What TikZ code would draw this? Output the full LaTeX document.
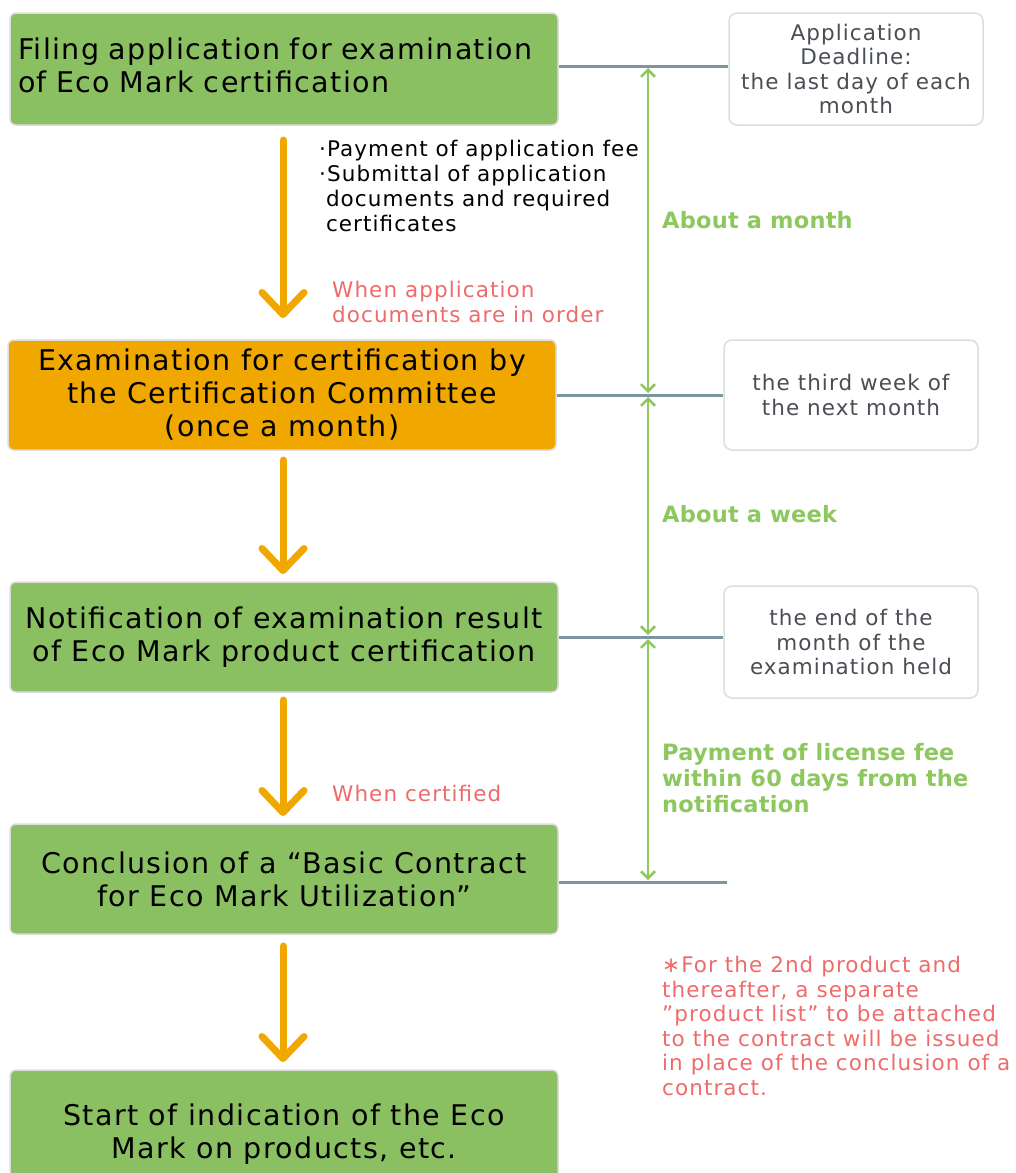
\documentclass[tikz,border=0pt]{standalone}
\usepackage{fontspec}
\setmainfont{DejaVu Sans}[LetterSpace=5]
\newfontfamily\boldfam{DejaVu Sans}[LetterSpace=1]
\usetikzlibrary{arrows.meta}
\definecolor{boxgreen}{HTML}{8BC062}
\definecolor{boxorange}{HTML}{F0A800}
\definecolor{arrgreen}{HTML}{8DC85F}
\definecolor{txtred}{HTML}{EE6B6B}
\definecolor{linegrey}{HTML}{7B95A3}
\definecolor{bordergrey}{HTML}{DDDDDD}
\definecolor{infotxt}{HTML}{4A4F55}
\newcommand{\bul}{·}
\tikzset{
  stepbox/.style={draw=bordergrey, line width=1.5pt, rounded corners=6pt, fill=boxgreen,
    minimum width=548pt, minimum height=110pt, inner sep=8pt,
    font=\fontsize{28.5}{33}\selectfont, text=black, align=center},
  infobox/.style={draw=bordergrey, line width=1.5pt, rounded corners=8pt, fill=white,
    minimum width=254pt, minimum height=112pt, font=\fontsize{21.5}{24.5}\selectfont,
    text=infotxt, align=center},
  flowarrow/.style={draw=boxorange, line width=7pt, line cap=round,
    -{Straight Barb[length=22pt,width=42pt,line cap=round,line join=round]}},
  spanarrow/.style={draw=arrgreen, line width=2.5pt,
    {Straight Barb[length=7pt,width=14pt]}-{Straight Barb[length=7pt,width=14pt]}},
  tieline/.style={draw=linegrey, line width=3pt},
  greentxt/.style={text=arrgreen, font=\boldfam\fontsize{22.5}{26}\selectfont\bfseries, align=left, anchor=north west, inner sep=0pt},
  redtxt/.style={text=txtred, font=\fontsize{21.5}{24.5}\selectfont, align=left, anchor=north west, inner sep=0pt},
  blacktxt/.style={text=black, font=\fontsize{21.5}{25}\selectfont, align=left, anchor=north west, inner sep=0pt},
}
\begin{document}
\begin{tikzpicture}[x=1pt,y=-1pt]
\useasboundingbox (0,0) rectangle (1016,1173);
\clip (0,0) rectangle (1016,1173);
% main boxes
\node[stepbox, minimum height=112pt, text width=532pt, align=left] (b1) at (284,69) {\raisebox{3pt}{\begin{tabular}{@{}l@{}}Filing application for examination\\of Eco Mark certification\end{tabular}}};
\node[stepbox, fill=boxorange] (b2) at (282,395) {Examination for certification by\\the Certification Committee\\(once a month)};
\node[stepbox] (b3) at (284,637) {Notification of examination result\\of Eco Mark product certification};
\node[stepbox] (b4) at (284,879) {Conclusion of a “Basic Contract\\for Eco Mark Utilization”};
\node[stepbox, minimum height=130pt] (b5) at (284,1135) {\raisebox{23pt}{\begin{tabular}{@{}c@{}}Start of indication of the Eco\\Mark on products, etc.\end{tabular}}};
% info boxes
\node[infobox] (i1) at (856,69) {Application\\Deadline:\\the last day of each\\month};
\node[infobox, minimum height=110pt] (i2) at (851,395) {the third week of\\the next month};
\node[infobox] (i3) at (851,642) {the end of the\\month of the\\examination held};
% tie lines
\coordinate (t1) at (648,66);
\coordinate (t2) at (648,395);
\coordinate (t3) at (648,637);
\coordinate (t4) at (648,882);
\coordinate (e4) at (727,882);
\draw[tieline] (b1.east |- t1) -- (i1.west |- t1);
\draw[tieline] (b2.east |- t2) -- (i2.west |- t2);
\draw[tieline] (b3.east |- t3) -- (i3.west |- t3);
\draw[tieline] (b4.east |- t4) -- (e4);
% span arrows
\draw[spanarrow, shorten <=2pt, shorten >=2pt] (t1) -- (t2);
\draw[spanarrow, shorten <=2pt, shorten >=2pt] (t2) -- (t3);
\draw[spanarrow, shorten <=2pt, shorten >=2pt] (t3) -- (t4);
% flow arrows
\coordinate (a1s) at (283,140); \coordinate (a1e) at (283,322);
\coordinate (a2s) at (283,460); \coordinate (a2e) at (283,578);
\coordinate (a3s) at (283,700); \coordinate (a3e) at (283,820);
\coordinate (a4s) at (283,946); \coordinate (a4e) at (283,1066);
\draw[flowarrow, shorten >=4pt] (a1s) -- (a1e);
\draw[flowarrow, shorten >=4pt] (a2s) -- (a2e);
\draw[flowarrow, shorten >=4pt] (a3s) -- (a3e);
\draw[flowarrow, shorten >=4pt] (a4s) -- (a4e);
% labels
\node[blacktxt] (n1) at (319,140) {\bul Payment of application fee\\\bul Submittal of application\\\phantom{\bul}documents and required\\\phantom{\bul}certificates};
\node[redtxt] (r1) at (332,281) {When application\\documents are in order};
\node[redtxt] (r2) at (332,785) {When certified};
\node[greentxt] (g1) at (662,211) {About a month};
\node[greentxt] (g2) at (662,505) {About a week};
\node[greentxt] (g3) at (662,743) {Payment of license fee\\within 60 days from the\\notification};
\node[redtxt] (r3) at (662,956) {∗For the 2nd product and\\thereafter, a separate\\”product list” to be attached\\to the contract will be issued\\in place of the conclusion of a\\contract.};
\end{tikzpicture}
\end{document}
